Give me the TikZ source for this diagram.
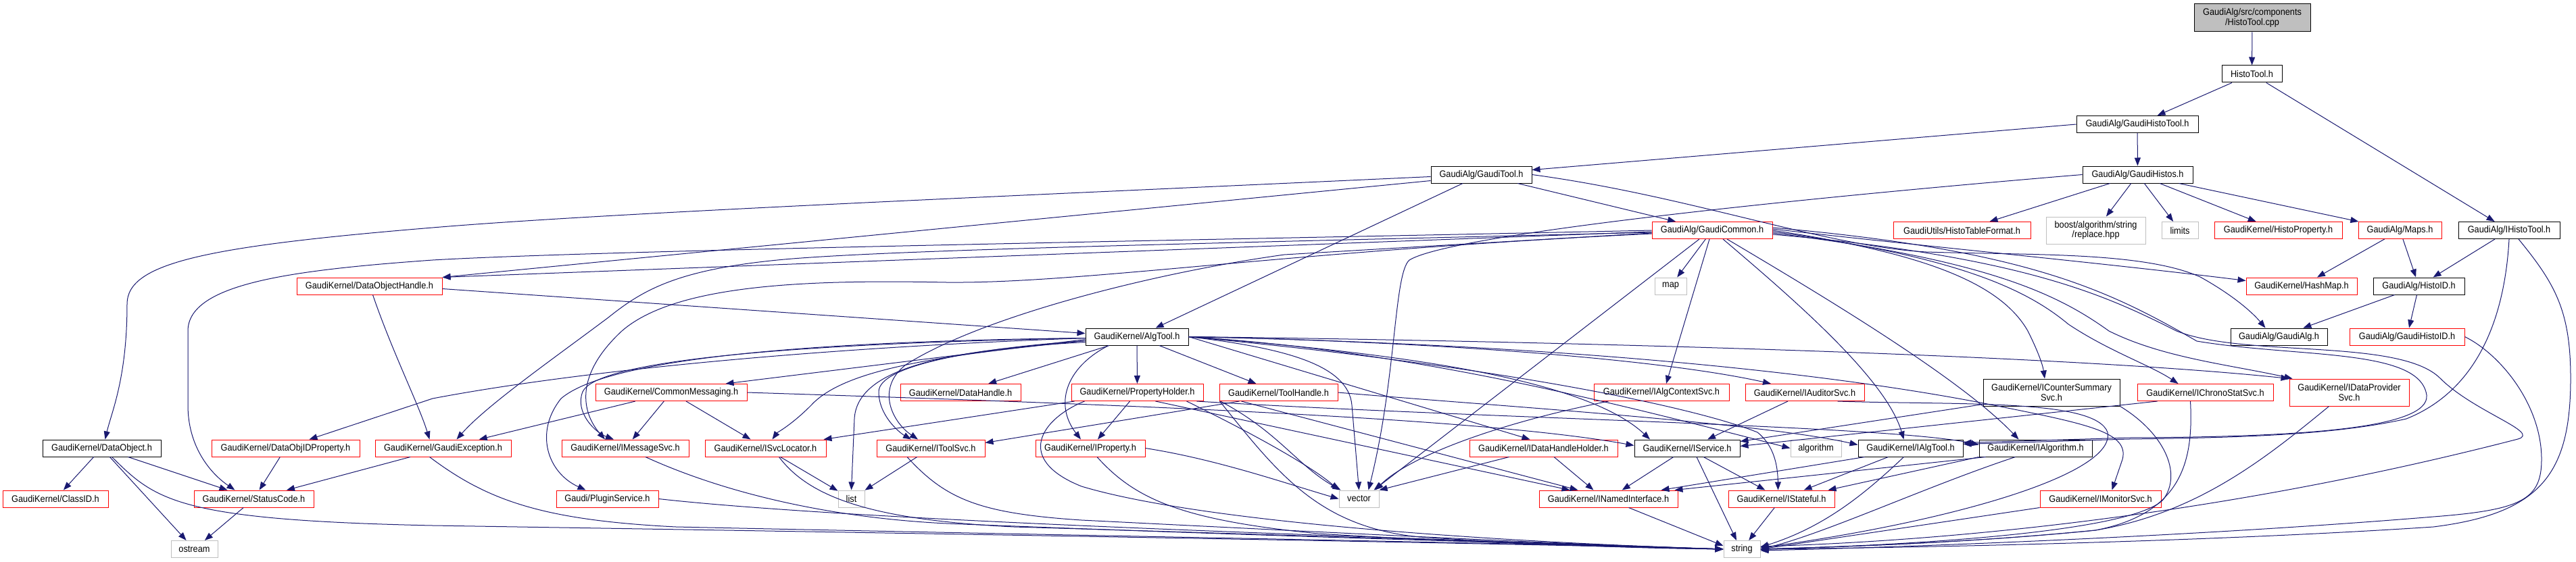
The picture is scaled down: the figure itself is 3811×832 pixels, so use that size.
\documentclass[tikz,border=0pt]{standalone}
\usepackage{fontspec}
\setmainfont{Liberation Sans}[FakeStretch=0.91]
\usetikzlibrary{arrows.meta,calc}
\definecolor{edgeblue}{HTML}{191970}
\definecolor{boxred}{HTML}{FF0000}
\definecolor{boxgrey}{HTML}{BFBFBF}
\begin{document}
\begin{tikzpicture}[x=1pt,y=-1pt,
  nb/.style={rectangle, inner sep=0pt, minimum height=25pt, line width=1pt, align=center, font=\fontsize{14}{14.5}\selectfont},
  kb/.style={nb, draw=black},
  rb/.style={nb, draw=boxred},
  gb/.style={nb, draw=boxgrey},
  e/.style={draw=edgeblue, line width=1pt, -{Triangle[length=12pt,width=9pt]}},
]
\useasboundingbox (0,0) rectangle (3811,832);
% ---------- nodes ----------
\node[kb, fill=boxgrey, minimum width=172, minimum height=41] (root) at (3332,26.5) {GaudiAlg/src/components\\/HistoTool.cpp};
\node[kb, minimum width=89] (ht) at (3331.5,109.5) {HistoTool.h};
\node[kb, minimum width=180] (ght) at (3162,184) {GaudiAlg/GaudiHistoTool.h};
\node[kb, minimum width=163] (gh) at (3162.5,258.5) {GaudiAlg/GaudiHistos.h};
\node[kb, minimum width=149] (gt) at (2191.5,258.5) {GaudiAlg/GaudiTool.h};
\node[kb, minimum width=150] (iht) at (3712,341) {GaudiAlg/IHistoTool.h};
\node[rb, minimum width=123] (maps) at (3550.5,341) {GaudiAlg/Maps.h};
\node[rb, minimum width=189] (hp) at (3370.5,341) {GaudiKernel/HistoProperty.h};
\node[gb, minimum width=54] (lim) at (3225,341) {limits};
\node[gb, minimum width=147, minimum height=40] (boost) at (3100.5,341) {boost/algorithm/string\\/replace.hpp};
\node[rb, minimum width=203] (htf) at (2902.5,341) {GaudiUtils/HistoTableFormat.h};
\node[rb, minimum width=178] (gc) at (2533,341) {GaudiAlg/GaudiCommon.h};
\node[rb, minimum width=215] (doh) at (546.5,423.5) {GaudiKernel/DataObjectHandle.h};
\node[gb, minimum width=47] (map) at (2471.5,423.5) {map};
\node[rb, minimum width=164] (hm) at (3405,423.5) {GaudiKernel/HashMap.h};
\node[kb, minimum width=135] (hid) at (3578.5,423.5) {GaudiAlg/HistoID.h};
\node[kb, minimum width=152] (at) at (1682,498.5) {GaudiKernel/AlgTool.h};
\node[kb, minimum width=143] (ga) at (3371.5,498.5) {GaudiAlg/GaudiAlg.h};
\node[rb, minimum width=170] (ghid) at (3561,498.5) {GaudiAlg/GaudiHistoID.h};
\node[rb, minimum width=224] (cm) at (993,581) {GaudiKernel/CommonMessaging.h};
\node[rb, minimum width=178] (dh) at (1421,581) {GaudiKernel/DataHandle.h};
\node[rb, minimum width=195] (ph) at (1682.5,581) {GaudiKernel/PropertyHolder.h};
\node[rb, minimum width=175] (th) at (1891.5,581) {GaudiKernel/ToolHandle.h};
\node[rb, minimum width=200] (iacs) at (2458,581) {GaudiKernel/IAlgContextSvc.h};
\node[rb, minimum width=176] (ias) at (2670,581) {GaudiKernel/IAuditorSvc.h};
\node[kb, minimum width=202, minimum height=40] (icss) at (3035,581) {GaudiKernel/ICounterSummary\\Svc.h};
\node[rb, minimum width=201] (ichs) at (3262.5,581) {GaudiKernel/IChronoStatSvc.h};
\node[rb, minimum width=177, minimum height=40] (idps) at (3475.5,581) {GaudiKernel/IDataProvider\\Svc.h};
\node[kb, minimum width=175] (dob) at (150.5,663.5) {GaudiKernel/DataObject.h};
\node[rb, minimum width=219] (doid) at (422.5,663.5) {GaudiKernel/DataObjIDProperty.h};
\node[rb, minimum width=201] (ge) at (655.5,663.5) {GaudiKernel/GaudiException.h};
\node[rb, minimum width=188] (ims) at (925,663.5) {GaudiKernel/IMessageSvc.h};
\node[rb, minimum width=179] (isl) at (1132.5,663.5) {GaudiKernel/ISvcLocator.h};
\node[rb, minimum width=160] (its) at (1377,663.5) {GaudiKernel/IToolSvc.h};
\node[rb, minimum width=162] (ip) at (1613,663.5) {GaudiKernel/IProperty.h};
\node[rb, minimum width=219] (idhh) at (2283.5,663.5) {GaudiKernel/IDataHandleHolder.h};
\node[kb, minimum width=156] (isv) at (2496,663.5) {GaudiKernel/IService.h};
\node[gb, minimum width=75] (alg) at (2686.5,663.5) {algorithm};
\node[kb, minimum width=155] (iat) at (2826.5,663.5) {GaudiKernel/IAlgTool.h};
\node[kb, minimum width=167] (ia) at (3011.5,663.5) {GaudiKernel/IAlgorithm.h};
\node[rb, minimum width=156] (cid) at (82,738.5) {GaudiKernel/ClassID.h};
\node[rb, minimum width=177] (sc) at (375.5,738.5) {GaudiKernel/StatusCode.h};
\node[rb, minimum width=151] (ps) at (898.5,738.5) {Gaudi/PluginService.h};
\node[gb, minimum width=39] (lst) at (1259.5,738.5) {list};
\node[gb, minimum width=59] (vec) at (2010.5,738.5) {vector};
\node[rb, minimum width=205] (ini) at (2379.5,738.5) {GaudiKernel/INamedInterface.h};
\node[rb, minimum width=157] (ist) at (2635.5,738.5) {GaudiKernel/IStateful.h};
\node[rb, minimum width=179] (imon) at (3107.5,738.5) {GaudiKernel/IMonitorSvc.h};
\node[gb, minimum width=69] (ost) at (287.5,813) {ostream};
\node[gb, minimum width=54] (str) at (2577,813) {string};
% ---------- top edges ----------
\draw[e] (root) -- (ht);
\draw[e] (ht) -- (ght);
\draw[e] (ht) -- (iht);
\draw[e] (ght) -- (gh);
\draw[e] (ght.west) -- ($(gt.east)+(0,-7)$);
\draw[e] (gh) -- (htf);
\draw[e] (gh) -- (boost);
\draw[e] (gh) -- (lim);
\draw[e] (gh) -- (hp);
\draw[e] (gh) -- (maps);
\draw[e] (gh.west) .. controls (2700,290) and (2150,345) .. (2085,385) .. controls (2062,405) and (2066,560) .. ($(vec.north)+(14,0)$);
\draw[e] (maps) -- (hm);
\draw[e] (maps) -- (hid);
\draw[e] (iht) -- (hid);
\draw[e] (hid) -- (ga);
\draw[e] (hid) -- (ghid);
% ---------- GaudiTool ----------
\draw[e] (gt) -- (gc);
\draw[e] (gt) -- (at);
\draw[e] ($(gt.west)+(0,3)$) .. controls (1500,290) and (900,315) .. (640,337) .. controls (300,365) and (188,390) .. (188,450) .. controls (188,560) and (165,610) .. ($(dob.north)+(5,0)$);
\draw[e] ($(gt.west)+(0,9)$) -- (doh.north east);
\draw[e] (gt.east) .. controls (2500,290) and (2700,365) .. (2850,373) .. controls (3000,378) and (3170,372) .. (3255,410) .. controls (3300,435) and (3330,460) .. ($(ga.north)+(-20,0)$);
% ---------- GaudiCommon ----------
\draw[e] ($(gc.west)+(0,2)$) -- (doh.north east);
\draw[e] (gc.west) .. controls (1800,355) and (900,370) .. (640,385) .. controls (430,400) and (278,420) .. (278,490) -- (278,600) .. controls (278,660) and (310,700) .. ($(sc.north)+(-28,0)$);
\draw[e] ($(gc.west)+(0,3)$) .. controls (1800,360) and (1300,370) .. (1150,385) .. controls (1000,400) and (950,430) .. (900,470) .. controls (820,530) and (720,600) .. ($(ge.north)+(20,0)$);
\draw[e] ($(gc.west)+(0,5)$) .. controls (1900,372) and (1600,420) .. (1400,418) .. controls (1200,414) and (1000,420) .. (920,490) .. controls (850,555) and (860,610) .. ($(ims.north)+(-30,0)$);
\draw[e] ($(gc.west)+(0,4)$) -- (1900,377) .. controls (1700,405) and (1450,470) .. (1340,540) .. controls (1295,575) and (1320,625) .. ($(its.north)+(-19,0)$);
\draw[e] (gc) -- (map);
\draw[e] ($(gc.south)+(-19,0)$) -- ($(vec.north)+(22,0)$);
\draw[e] ($(gc.south)+(-4,0)$) -- ($(iacs.north)+(7,0)$);
\draw[e] ($(gc.south)+(16,0)$) .. controls (2650,440) and (2790,560) .. ($(iat.north)+(-10,0)$);
\draw[e] ($(gc.south)+(22,0)$) .. controls (2700,440) and (2900,560) .. ($(ia.north)+(-25,0)$);
\draw[e] ($(gc.east)+(0,-2)$) .. controls (2850,365) and (3100,388) .. ($(hm.west)+(0,-8)$);
\draw[e] (gc.east) .. controls (2850,375) and (2960,420) .. (3000,490) .. controls (3015,520) and (3022,540) .. ($(icss.north)+(-10,0)$);
\draw[e] ($(gc.east)+(0,2)$) .. controls (2900,380) and (3000,430) .. (3060,480) .. controls (3120,520) and (3180,540) .. ($(ichs.north)+(-40,0)$);
\draw[e] ($(gc.east)+(0,4)$) .. controls (2950,385) and (3050,440) .. (3120,490) .. controls (3200,530) and (3300,540) .. ($(idps.north west)+(5,0)$);
\draw[e] ($(gc.east)+(0,6)$) .. controls (3000,380) and (3120,440) .. (3220,490) .. controls (3320,530) and (3550,500) .. (3610,560) .. controls (3660,610) and (3760,640) .. (3725,650) .. controls (3300,760) and (2900,800) .. ($(str.east)+(0,-4)$);
\draw[e] ($(gc.east)+(0,-4)$) .. controls (3000,370) and (3120,430) .. (3250,505) .. controls (3400,530) and (3580,515) .. (3590,585) .. controls (3595,635) and (3400,647) .. (3150,648) -- ($(iat.east)+(0,-8)$);
% ---------- IHistoTool / GaudiHistoID ----------
\draw[e] (iht.south) .. controls (3705,480) and (3660,580) .. (3560,620) .. controls (3450,645) and (3300,648) .. (3150,650) -- ($(iat.east)+(0,-6)$);
\draw[e] ($(iht.south)+(14,0)$) .. controls (3780,420) and (3803,460) .. (3803,560) .. controls (3803,700) and (3760,760) .. (3600,780) .. controls (3300,800) and (2900,810) .. (str.east);
\draw[e] (ghid.east) .. controls (3700,525) and (3760,600) .. (3760,680) .. controls (3760,740) and (3730,755) .. (3600,765) .. controls (3300,790) and (2900,808) .. ($(str.east)+(0,2)$);
% ---------- AlgTool ----------
\draw[e] (at) -- (dh);
\draw[e] (at) -- (ph);
\draw[e] (at) -- (th);
\draw[e] ($(at.south)+(-42,0)$) .. controls (1575,545) and (1560,600) .. ($(ip.north)+(-14,0)$);
\draw[e] ($(at.west)+(0,6)$) .. controls (1450,515) and (1300,540) .. (1300,580) .. controls (1300,615) and (1330,640) .. ($(its.north)+(-29,0)$);
\draw[e] ($(at.west)+(0,8)$) .. controls (1400,518) and (1268,545) .. (1264,620) -- (lst.north);
\draw[e] ($(at.west)+(0,6)$) .. controls (1400,525) and (1250,545) .. (1200,600) .. controls (1170,630) and (1150,640) .. ($(isl.north)+(10,0)$);
\draw[e] ($(at.west)+(0,4)$) -- ($(cm.north east)+(-32,0)$);
\draw[e] ($(at.west)+(0,2)$) .. controls (1200,505) and (900,530) .. (830,590) .. controls (790,640) and (810,700) .. ($(ps.north)+(-32,0)$);
\draw[e] ($(at.west)+(0,2)$) .. controls (1100,510) and (880,540) .. (862,580) .. controls (850,610) and (880,640) .. ($(ims.north)+(-17,0)$);
\draw[e] ($(at.west)+(0,2)$) .. controls (1200,515) and (850,550) .. (640,590) -- ($(doid.north)+(35,0)$);
\draw[e] (at.east) .. controls (1900,515) and (1995,540) .. (2000,600) -- (vec.north);
\draw[e] (at.east) -- ($(idhh.north)+(-20,0)$);
\draw[e] (at.east) .. controls (2100,525) and (2350,565) .. ($(isv.north)+(-55,0)$);
\draw[e] (at.east) .. controls (2100,505) and (2450,530) .. ($(ias.north)+(-50,0)$);
\draw[e] (at.east) .. controls (2300,505) and (3050,525) .. (idps.north west);
\draw[e] (at.east) .. controls (2300,510) and (2700,550) .. (2950,600) .. controls (3090,628) and (3150,640) .. (3140,680) -- ($(imon.north)+(17,0)$);
\draw[e] (at.east) .. controls (2100,520) and (2400,600) .. (alg.west);
\draw[e] (at.east) .. controls (2200,540) and (2500,600) .. (2600,640) .. controls (2625,660) and (2630,690) .. ($(ist.north)+(-5,0)$);
% ---------- ToolHandle ----------
\draw[e] ($(th.south west)+(30,0)$) -- ($(its.east)+(0,-8)$);
\draw[e] ($(th.south west)+(2,0)$) .. controls (1892,640) and (1920,690) .. ($(vec.north west)+(3,0)$);
\draw[e] ($(th.south west)+(1,0)$) .. controls (1890,700) and (1950,780) .. (2100,795) .. controls (2300,808) and (2450,812) .. (str.west);
\draw[e] ($(th.south west)+(33,0)$) -- ($(ini.north)+(-45,0)$);
\draw[e] (th.east) .. controls (2200,600) and (2600,625) .. ($(iat.west)+(0,-5)$);
% ---------- PropertyHolder ----------
\draw[e] (ph) -- (ip);
\draw[e] ($(ph.south west)+(5,0)$) -- ($(isl.north east)+(-4,0)$);
\draw[e] ($(ph.south west)+(20,0)$) .. controls (1540,620) and (1500,680) .. (1600,720) .. controls (1800,780) and (2300,805) .. (str.west);
\draw[e] ($(ph.south)+(27,0)$) -- ($(ini.north)+(-57,0)$);
\draw[e] ($(ph.south east)+(-25,0)$) .. controls (1850,640) and (1940,690) .. (vec.north west);
\draw[e] ($(ph.south east)+(-10,0)$) .. controls (2200,620) and (2800,630) .. ($(ia.west)+(0,-5)$);
% ---------- CommonMessaging ----------
\draw[e] (cm) -- (ge);
\draw[e] (cm) -- (ims);
\draw[e] (cm) -- (isl);
\draw[e] (cm.east) .. controls (1700,600) and (2200,620) .. ($(isv.west)+(0,-4)$);
% ---------- left part ----------
\draw[e] ($(doh.south)+(5,0)$) .. controls (580,520) and (620,600) .. ($(ge.north)+(-20,0)$);
\draw[e] ($(doh.east)+(0,4)$) -- ($(at.west)+(0,-5)$);
\draw[e] (ge) -- (sc);
\draw[e] ($(ge.south)+(-20,0)$) .. controls (720,740) and (800,770) .. (1000,780) .. controls (1700,795) and (2300,805) .. (str.west);
\draw[e] (doid) -- (sc);
\draw[e] (dob) -- (cid);
\draw[e] (dob) -- (sc);
\draw[e] (dob) -- (ost);
\draw[e] ($(dob.south)+(15,0)$) .. controls (230,740) and (260,770) .. (640,778) .. controls (1400,790) and (2300,806) .. (str.west);
\draw[e] (sc) -- (ost);
\draw[e] ($(ims.south)+(30,0)$) .. controls (1050,720) and (1200,765) .. (1400,775) .. controls (1900,795) and (2300,805) .. (str.west);
\draw[e] (ps.east) .. controls (1300,775) and (2200,800) .. (str.west);
\draw[e] (isl) -- (lst);
\draw[e] ($(isl.south)+(20,0)$) .. controls (1200,740) and (1300,770) .. (1500,780) .. controls (2000,795) and (2300,805) .. (str.west);
\draw[e] (its) -- (lst);
\draw[e] ($(its.south)+(-35,0)$) .. controls (1400,740) and (1450,760) .. (1600,770) .. controls (2000,790) and (2300,805) .. (str.west);
\draw[e] (ip.east) .. controls (1800,680) and (1900,715) .. (vec.west);
\draw[e] ($(ip.south)+(10,0)$) .. controls (1680,740) and (1750,770) .. (1950,790) .. controls (2200,805) and (2400,810) .. (str.west);
% ---------- middle ----------
\draw[e] (idhh) -- (vec.north east);
\draw[e] (idhh) -- ($(ini.north)+(-22,0)$);
\draw[e] ($(iacs.south west)+(22,0)$) .. controls (2200,630) and (2080,680) .. ($(vec.north)+(24,0)$);
\draw[e] ($(ias.south)+(-25,0)$) -- ($(isv.north)+(30,0)$);
\draw[e] ($(ias.south east)+(-40,0)$) .. controls (2900,600) and (3100,590) .. (3118,640) .. controls (3130,700) and (2900,770) .. ($(str.east)+(0,-2)$);
\draw[e] (isv) -- (ini);
\draw[e] (isv) -- (ist);
\draw[e] ($(isv.south)+(14,0)$) -- ($(str.north)+(-8,0)$);
\draw[e] (iat) -- (ist);
\draw[e] ($(iat.south west)+(10,0)$) -- ($(ini.north east)+(-25,0)$);
\draw[e] ($(iat.south)+(-10,0)$) .. controls (2760,730) and (2700,780) .. ($(str.east)+(0,-3)$);
\draw[e] (ia.south west) -- ($(ist.north east)+(-10,0)$);
\draw[e] ($(ia.south west)+(10,0)$) -- ($(ini.north east)+(-5,0)$);
\draw[e] ($(ia.south)+(-30,0)$) .. controls (2850,720) and (2700,790) .. (str.east);
\draw[e] (ist) -- (str);
\draw[e] ($(ini.south)+(30,0)$) -- ($(str.west)+(0,-5)$);
\draw[e] (imon.south west) -- (str.east);
\draw[e] ($(icss.south west)+(0,-3)$) -- ($(isv.north east)+(0,3)$);
\draw[e] (icss.south east) .. controls (3200,640) and (3230,700) .. (3200,740) .. controls (3150,790) and (2800,808) .. (str.east);
\draw[e] ($(ichs.south west)+(30,0)$) -- ($(isv.east)+(0,-3)$);
\draw[e] ($(ichs.south)+(-22,0)$) .. controls (3245,680) and (3230,760) .. (3100,785) .. controls (2900,805) and (2700,810) .. (str.east);
\draw[e] ($(idps.south)+(-30,0)$) .. controls (3350,680) and (3250,760) .. (3100,785) .. controls (2900,805) and (2700,810) .. (str.east);
\end{tikzpicture}
\end{document}
